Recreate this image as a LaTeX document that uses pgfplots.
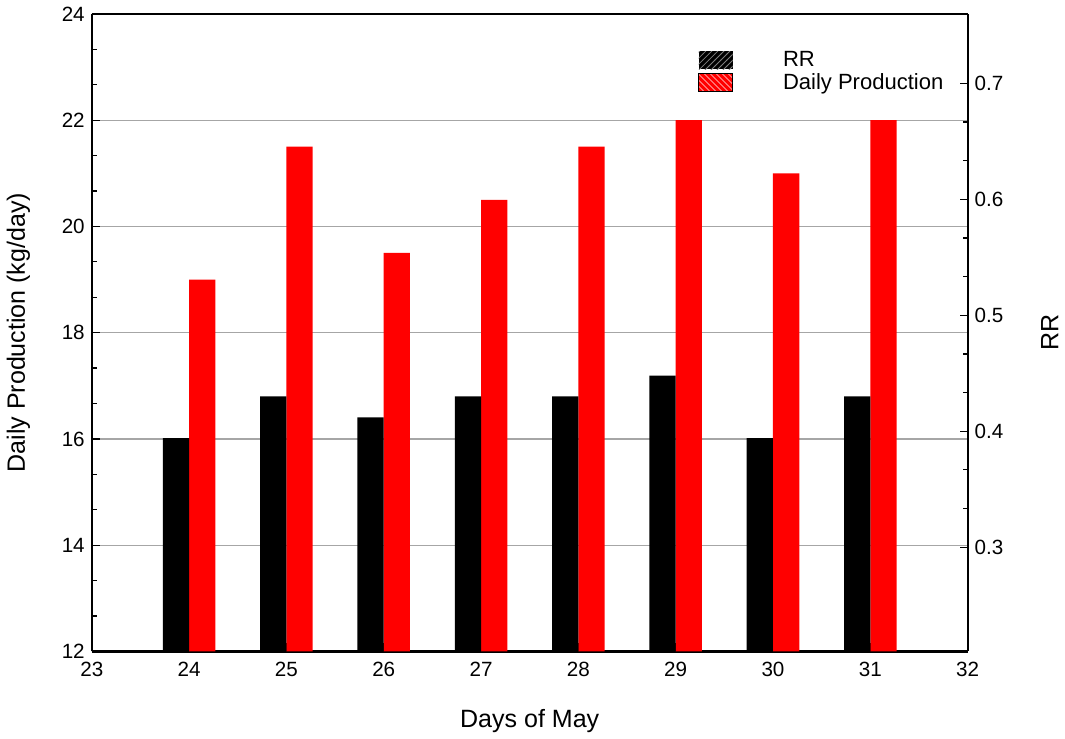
\documentclass[border=0pt]{standalone}
\usepackage{fontspec}
\setmainfont{Liberation Sans}
\usepackage{pgfplots}
\pgfplotsset{compat=1.18}
\usetikzlibrary{patterns}
\begin{document}
\begin{tikzpicture}
\pgfplotsset{
  every axis/.append style={
    scale only axis, width=437.5pt, height=318.5pt,
    xmin=23, xmax=32,
    tick align=inside,
    axis line style={line width=1.1pt},
    major tick length=4pt, minor tick length=2.5pt,
    tick style={black, line width=0.6pt},
    /pgf/number format/assume math mode=true,
    tick label style={font=\fontsize{10.3}{12}\selectfont},
    label style={font=\fontsize{12.5}{14}\selectfont},
  }
}
\begin{axis}[
  ymin=12, ymax=24, ytick={12,14,...,24},
  minor y tick num=2,
  xtick={23,...,32},
  axis y line*=left, axis x line*=bottom,
  ymajorgrids, grid style={gray!70, line width=0.6pt},
  xlabel={Days of May}, ylabel={Daily Production (kg/day)},
  xticklabel style={yshift=-2pt},
  xlabel style={yshift=-9pt},
  ylabel style={yshift=9pt},
  clip=false,
]
\addplot[ybar, bar width=0.27, bar shift=0.135, fill=red, draw=none] coordinates {
 (24,19) (25,21.5) (26,19.5) (27,20.5) (28,21.5) (29,22) (30,21) (31,22)};
\end{axis}
\begin{axis}[
  ymin=0.21, ymax=0.76, ytick={0.3,0.4,...,0.7},
  minor y tick num=2,
  yticklabel style={/pgf/number format/.cd, fixed, fixed zerofill, precision=1},
  axis y line*=right, axis x line*=top, xtick=\empty,
  ylabel={RR},
  ylabel style={yshift=-12pt},
  legend style={draw=none, fill=none, at={(0.685,0.955)}, anchor=north west,
    font=\fontsize{11}{13}\selectfont, row sep=-2pt,
    /tikz/every even column/.append style={column sep=0pt}},
  legend cell align=left,
]
\addplot[ybar, bar width=0.27, bar shift=-0.135, fill=black, draw=none,
  legend image code/.code={
    \fill[black] (0pt,-4.5pt) rectangle (17pt,4.5pt);
    \fill[pattern=north east lines, pattern color=gray] (0pt,-4.5pt) rectangle (17pt,4.5pt);
    \draw[white] (17pt,0) -- (40pt,0);
  }] coordinates {
 (24,0.394) (25,0.430) (26,0.412) (27,0.430) (28,0.430) (29,0.448) (30,0.394) (31,0.430)};
\addlegendentry{RR}
\addlegendimage{legend image code/.code={
    \fill[red] (0pt,-4.5pt) rectangle (17pt,4.5pt);
    \fill[pattern=north west lines, pattern color=white!60!red] (0pt,-4.5pt) rectangle (17pt,4.5pt);
    \draw[white] (17pt,0) -- (40pt,0);
  }}
\addlegendentry{Daily Production}
\end{axis}
\end{tikzpicture}
\end{document}
